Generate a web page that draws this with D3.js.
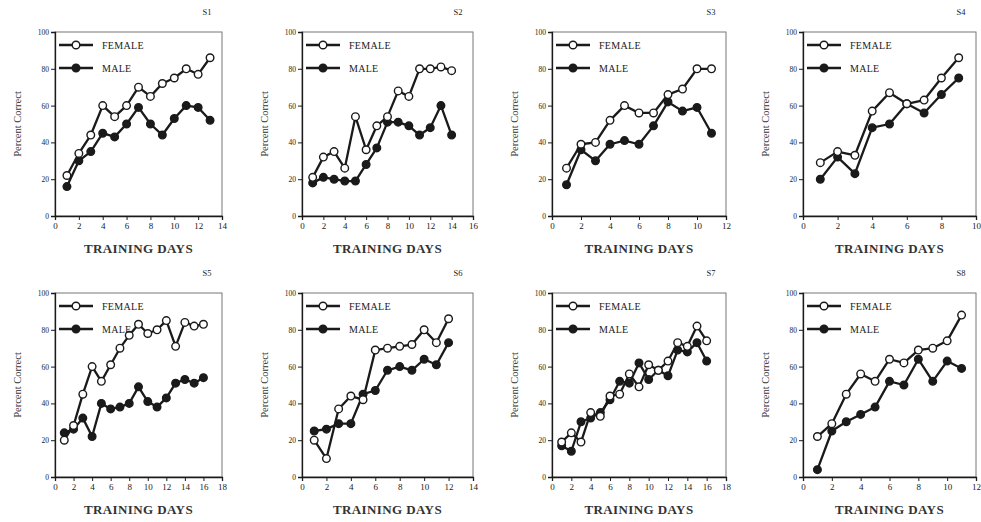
<!DOCTYPE html>
<html><head><meta charset="utf-8">
<script src="https://cdn.jsdelivr.net/npm/d3@7"></script>
<style>body{margin:0;background:#fff}svg{display:block}</style>
</head><body>
<svg id="c" width="981" height="522"></svg>
<script>
const titles = ["S1","S2","S3","S4","S5","S6","S7","S8"];
const xMax = [14,16,12,10,18,14,18,12];
const yTicks = [0,20,40,60,80,100];
const seriesNames = ["FEMALE","MALE"];

const female1 = [22,34,44,60,54,60,70,65,72,75,80,77,86];
const male1   = [16,30,35,45,43,50,59,50,44,53,60,59,52];
const female2 = [21,32,35,26,54,36,49,54,68,65,80,80,81,79];
const male2   = [18,21,20,19,19,28,37,51,51,49,44,48,60,44];
const female3 = [26,39,40,52,60,56,56,66,69,80,80];
const male3   = [17,36,30,39,41,39,49,62,57,59,45];
const female4 = [29,35,33,57,67,61,63,75,86];
const male4   = [20,32,23,48,50,61,56,66,75];
const female5 = [20,28,45,60,52,61,70,77,83,78,80,85,71,84,82,83];
const male5   = [24,26,32,22,40,37,38,40,49,41,38,43,51,53,51,54];
const female6 = [20,10,37,44,42,69,70,71,72,80,73,86];
const male6   = [25,26,29,29,45,47,58,60,58,64,61,73];
const female7 = [19,24,19,35,33,44,45,56,49,61,58,63,73,71,82,74];
const male7   = [17,14,30,32,35,42,52,51,62,53,58,55,69,68,73,63];
const female8 = [22,29,45,56,52,64,62,69,70,74,88];
const male8   = [4,25,30,34,38,52,50,64,52,63,59];

const females = [female1,female2,female3,female4,female5,female6,female7,female8];
const males = [male1,male2,male3,male4,male5,male6,male7,male8];

const svg = d3.select("#c");
const colLeft = [55,302,552,803];
const colW = [167,171,174,173];
const rowTop = [32,293];
const plotH = 184;
const serif = "'Liberation Serif','DejaVu Serif',serif";
const ink = "#1a1a1a";

titles.forEach((t,i)=>{
  const col = i%4, row = Math.floor(i/4);
  const L = colLeft[col], T = rowTop[row], W = colW[col];
  const g = svg.append("g").attr("transform",`translate(${L},${T})`);
  const x = d3.scaleLinear().domain([0,xMax[i]]).range([0,W]);
  const y = d3.scaleLinear().domain([0,100]).range([plotH,0]);

  // frame
  g.append("rect").attr("x",0).attr("y",0).attr("width",W).attr("height",plotH)
    .attr("fill","none").attr("stroke","#777").attr("stroke-width",1);

  const ya = g.append("g").attr("color",ink)
    .call(d3.axisLeft(y).tickValues(yTicks).tickSize(4).tickPadding(2));
  ya.selectAll("text").attr("font-family",serif).attr("font-size",7.5);
  ya.select(".domain").attr("stroke-width",1.3);

  const xt = d3.range(0,xMax[i]+1,2);
  const xa = g.append("g").attr("color",ink).attr("transform",`translate(0,${plotH})`)
    .call(d3.axisBottom(x).tickValues(xt).tickSize(4).tickPadding(3));
  xa.selectAll("text").attr("font-family",serif).attr("font-size",9);
  xa.select(".domain").attr("stroke-width",1.3);

  g.append("text").attr("x",W-15).attr("y",-17).attr("text-anchor","middle")
    .attr("font-family",serif).attr("font-size",8.5).attr("fill",ink).text(t);

  g.append("text").attr("transform",`translate(-34,${plotH/2}) rotate(-90)`)
    .attr("text-anchor","middle").attr("font-family",serif).attr("font-size",10.5)
    .attr("fill","#333").text("Percent Correct");

  g.append("text").attr("x",W/2).attr("y",plotH+37).attr("text-anchor","middle")
    .attr("font-family",serif).attr("font-size",13).attr("font-weight","bold")
    .attr("letter-spacing",0.4).attr("fill","#333").text("TRAINING DAYS");

  const line = d3.line().x((d,j)=>x(j+1)).y(d=>y(d));
  const data = [females[i], males[i]];
  [1,0].forEach(s=>{
    g.append("path").datum(data[s]).attr("d",line).attr("fill","none")
      .attr("stroke",ink).attr("stroke-width",2.3).attr("stroke-linejoin","round");
  });
  [1,0].forEach(s=>{
    g.selectAll(null).data(data[s]).enter().append("circle")
      .attr("cx",(d,j)=>x(j+1)).attr("cy",d=>y(d)).attr("r",3.8)
      .attr("fill", s===0 ? "#fff" : ink).attr("stroke",ink).attr("stroke-width",1.4);
  });

  // legend
  seriesNames.forEach((n,s)=>{
    const ly = 13 + s*23;
    g.append("line").attr("x1",4).attr("x2",38).attr("y1",ly).attr("y2",ly)
      .attr("stroke",ink).attr("stroke-width",2.3);
    g.append("circle").attr("cx",21).attr("cy",ly).attr("r",3.8)
      .attr("fill", s===0 ? "#fff" : ink).attr("stroke",ink).attr("stroke-width",1.4);
    g.append("text").attr("x",47).attr("y",ly+3.5).attr("font-family",serif)
      .attr("font-size",10).attr("fill",ink).attr("letter-spacing",0.3).text(n);
  });
});
</script>
</body></html>
